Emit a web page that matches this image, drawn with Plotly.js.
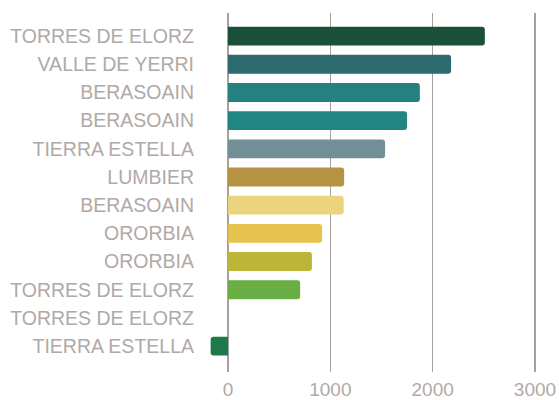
<!DOCTYPE html>
<html>
<head>
<meta charset="utf-8">
<script src="https://cdn.plot.ly/plotly-3.0.1.min.js"></script>
<style>html,body{margin:0;padding:0;background:#fff;}#chart{width:559px;height:400px;}</style>
</head>
<body>
<div id="chart"></div>
<script>
const categories = ["TORRES DE ELORZ","VALLE DE YERRI","BERASOAIN","BERASOAIN","TIERRA ESTELLA","LUMBIER","BERASOAIN","ORORBIA","ORORBIA","TORRES DE ELORZ","TORRES DE ELORZ","TIERRA ESTELLA"];
const values = [2510, 2180, 1875, 1750, 1535, 1135, 1130, 920, 820, 705, 0, -170];
const colors = ["#1a5037","#2e6b6e","#24817f","#218583","#728f98","#b59244","#ecd47f","#e6c24e","#bdb53a","#6aaf45","#6aaf45","#1e7a4b"];
const xTicks = [0, 1000, 2000, 3000];

const positions = categories.map((_, i) => i);

const trace = {
  type: "bar",
  orientation: "h",
  x: values,
  y: positions,
  marker: { color: colors, cornerradius: 3, line: { width: 0 } },
  hoverinfo: "none"
};

const layout = {
  width: 559,
  height: 400,
  margin: { l: 205, r: 14, t: 13, b: 28 },
  paper_bgcolor: "#ffffff",
  plot_bgcolor: "#ffffff",
  showlegend: false,
  bargap: 0.33,
  font: { family: "Liberation Sans, Arial, sans-serif", size: 19, color: "#b1a9a6" },
  xaxis: {
    range: [-225, 3098],
    tickvals: xTicks,
    ticktext: xTicks.map(String),
    showgrid: true,
    gridcolor: "#a8a09c",
    gridwidth: 1.6,
    zeroline: false,
    showline: false,
    ticks: "",
    ticklabelstandoff: 4,
    tickfont: { size: 19, color: "#b1a9a6" }
  },
  yaxis: {
    range: [11.92, -0.82],
    tickvals: positions,
    ticktext: categories,
    showgrid: false,
    zeroline: false,
    showline: false,
    ticks: "",
    ticklabelstandoff: 10,
    tickfont: { size: 19.5, color: "#b1a9a6" }
  }
};

Plotly.newPlot("chart", [trace], layout, { staticPlot: true, displayModeBar: false });
</script>
</body>
</html>
